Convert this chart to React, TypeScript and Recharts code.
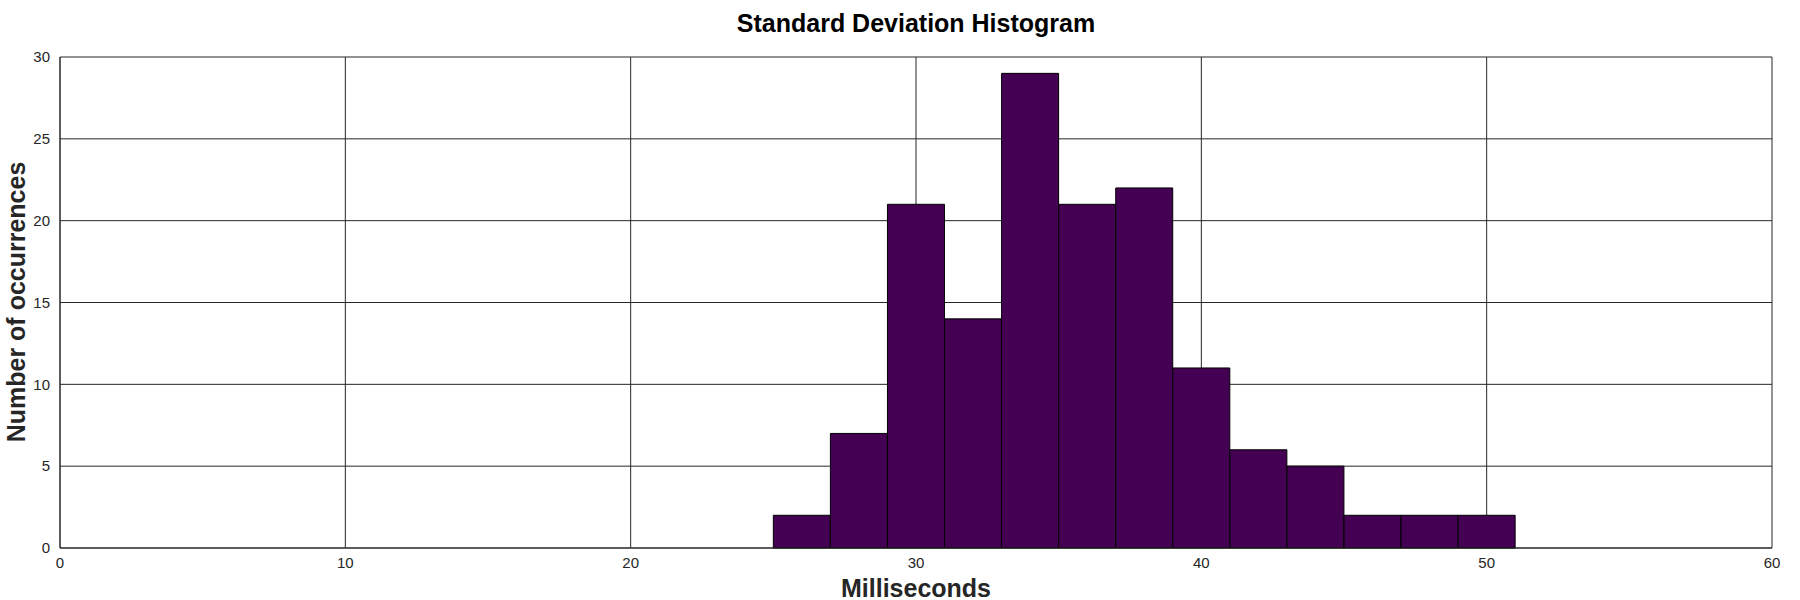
import { ComposedChart, Bar, XAxis, YAxis, CartesianGrid } from "recharts";

// histogram bins, 2 ms wide, value = bin centre
const binCenters = [26, 28, 30, 32, 34, 36, 38, 40, 42, 44, 46, 48, 50];
const counts = [2, 7, 21, 14, 29, 21, 22, 11, 6, 5, 2, 2, 2];

const xTicks = [0, 10, 20, 30, 40, 50, 60];
const yTicks = [0, 5, 10, 15, 20, 25, 30];

const data = binCenters.map((c, i) => ({ center: c, count: counts[i] }));

const font = "'Liberation Sans', Arial, Helvetica, sans-serif";
const ink = "#262626";

export default function App() {
  return (
    <div
      style={{
        position: "absolute",
        left: 0,
        top: 0,
        width: 1800,
        height: 600,
        background: "#fff",
        fontFamily: font,
      }}
    >
      <div
        style={{
          position: "absolute",
          left: 60,
          width: 1712,
          top: 9,
          textAlign: "center",
          fontSize: 25,
          fontWeight: "bold",
          color: "#000",
          lineHeight: "28px",
        }}
      >
        Standard Deviation Histogram
      </div>
      <ComposedChart
        width={1800}
        height={600}
        data={data}
        barCategoryGap={0}
        barGap={0}
        margin={{ top: 57, right: 28, bottom: 22, left: 0 }}
      >
        <CartesianGrid stroke={ink} strokeWidth={1} />
        <XAxis
          dataKey="center"
          type="number"
          domain={[0, 60]}
          ticks={xTicks}
          interval={0}
          height={30}
          tickLine={false}
          tickMargin={3}
          axisLine={{ stroke: ink }}
          tick={{ fontSize: 15, fill: ink, fontFamily: font }}
        />
        <YAxis
          type="number"
          domain={[0, 30]}
          ticks={yTicks}
          interval={0}
          width={60}
          tickLine={false}
          tickMargin={4}
          axisLine={{ stroke: ink }}
          tick={{ fontSize: 15, fill: ink, fontFamily: font }}
        />
        <Bar
          dataKey="count"
          fill="#440154"
          stroke="#000"
          strokeWidth={1}
          isAnimationActive={false}
        />
      </ComposedChart>
      <div
        style={{
          position: "absolute",
          left: 60,
          width: 1712,
          top: 574,
          textAlign: "center",
          fontSize: 25,
          fontWeight: "bold",
          color: ink,
          lineHeight: "28px",
        }}
      >
        Milliseconds
      </div>
      <div
        style={{
          position: "absolute",
          left: 16,
          top: 302,
          transform: "translate(-50%, -50%) rotate(-90deg)",
          whiteSpace: "nowrap",
          fontSize: 25,
          fontWeight: "bold",
          color: ink,
          lineHeight: "28px",
        }}
      >
        Number of occurrences
      </div>
    </div>
  );
}
